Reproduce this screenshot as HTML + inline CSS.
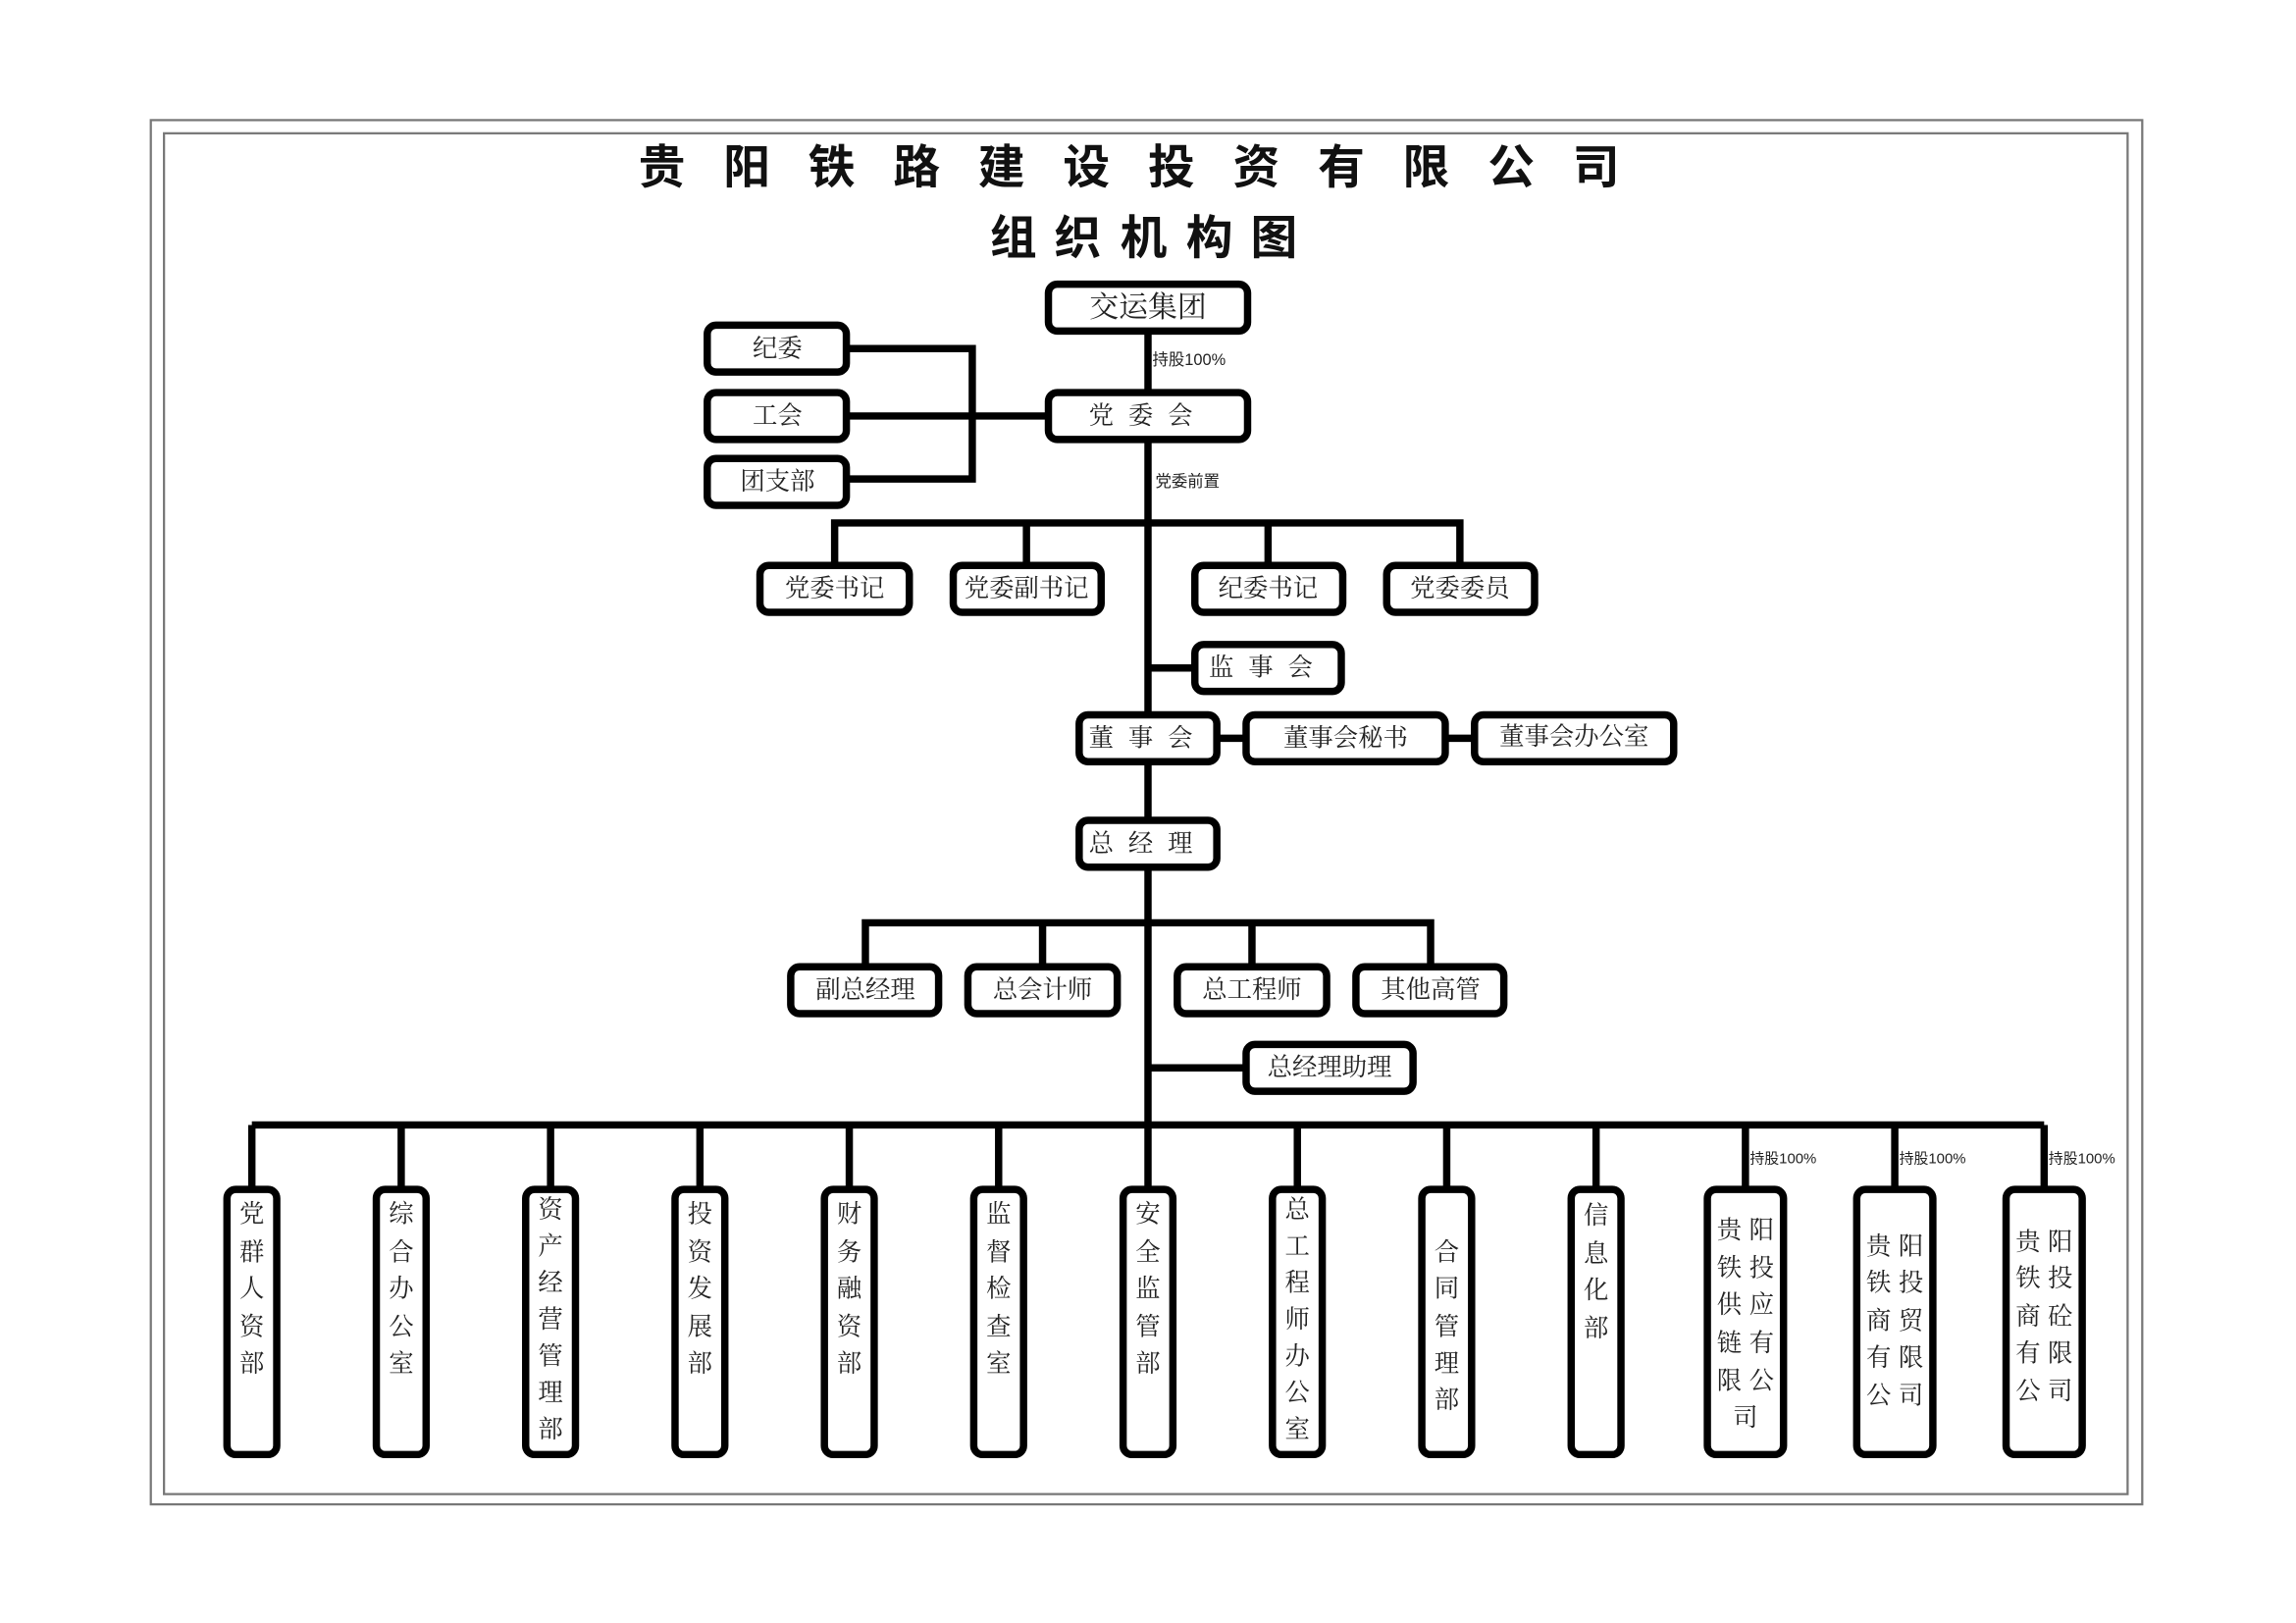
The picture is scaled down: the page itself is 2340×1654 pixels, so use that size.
<!DOCTYPE html>
<html><head><meta charset="utf-8"><style>
html,body{margin:0;padding:0;background:#fff;}
svg{display:block;}
.t{font-family:"Liberation Serif","Noto Serif CJK SC",serif;font-size:17px;fill:#222;text-anchor:middle;dominant-baseline:central;}
.h{font-family:"Liberation Sans","Noto Sans CJK SC",sans-serif;font-weight:bold;font-size:32px;fill:#111;text-anchor:middle;dominant-baseline:central;}
.s{font-family:"Liberation Sans","Noto Sans CJK SC",sans-serif;font-size:11px;fill:#222;dominant-baseline:central;}
.b{fill:#fff;stroke:#000;stroke-width:5;}
.l{stroke:#000;stroke-width:5;fill:none;}
</style></head><body>
<svg width="2340" height="1654" viewBox="0 0 1568 1108" preserveAspectRatio="none" xmlns="http://www.w3.org/2000/svg">
<rect x="0" y="0" width="1568" height="1108" fill="#fff"/>
<rect x="103" y="82" width="1360" height="945" fill="none" stroke="#777" stroke-width="1.5"/>
<rect x="112" y="91" width="1341" height="929" fill="none" stroke="#777" stroke-width="1.5"/>
<g class="h">
<text x="452" y="115">贵</text><text x="510" y="115">阳</text><text x="568" y="115">铁</text><text x="626" y="115">路</text><text x="684" y="115">建</text><text x="742" y="115">设</text><text x="800" y="115">投</text><text x="858" y="115">资</text><text x="916" y="115">有</text><text x="974" y="115">限</text><text x="1032" y="115">公</text><text x="1090" y="115">司</text>
<text x="692" y="163">组</text><text x="736" y="163">织</text><text x="781" y="163">机</text><text x="826" y="163">构</text><text x="870" y="163">图</text>
</g>
<!-- lines -->
<g class="l">
<line x1="784" y1="226" x2="784" y2="768"/>
<polyline points="578,238 664,238 664,327 578,327"/>
<line x1="578" y1="284" x2="716" y2="284"/>
<polyline points="570,386 570,357 997,357 997,386"/>
<line x1="701" y1="357" x2="701" y2="386"/><line x1="866" y1="357" x2="866" y2="386"/>
<line x1="784" y1="456" x2="816" y2="456"/>
<line x1="831" y1="504" x2="851" y2="504"/><line x1="987" y1="504" x2="1007" y2="504"/>
<polyline points="591,660 591,630 977,630 977,660"/>
<line x1="712" y1="630" x2="712" y2="660"/><line x1="855" y1="630" x2="855" y2="660"/>
<line x1="784" y1="729" x2="851" y2="729"/>
<line x1="172" y1="768" x2="1396" y2="768"/>
<line x1="172" y1="768" x2="172" y2="812"/><line x1="274" y1="768" x2="274" y2="812"/><line x1="376" y1="768" x2="376" y2="812"/><line x1="478" y1="768" x2="478" y2="812"/><line x1="580" y1="768" x2="580" y2="812"/><line x1="682" y1="768" x2="682" y2="812"/><line x1="784" y1="768" x2="784" y2="812"/><line x1="886" y1="768" x2="886" y2="812"/><line x1="988" y1="768" x2="988" y2="812"/><line x1="1090" y1="768" x2="1090" y2="812"/><line x1="1192" y1="768" x2="1192" y2="812"/><line x1="1294" y1="768" x2="1294" y2="812"/><line x1="1396" y1="768" x2="1396" y2="812"/>
</g>
<!-- boxes -->
<g class="b">
<rect x="716" y="194" width="136" height="32" rx="6"/>
<rect x="483" y="222" width="95" height="32" rx="6"/>
<rect x="483" y="268" width="95" height="32" rx="6"/>
<rect x="483" y="313" width="95" height="32" rx="6"/>
<rect x="716" y="268" width="136" height="32" rx="6"/>
<rect x="519" y="386" width="102" height="32" rx="6"/>
<rect x="651" y="386" width="101" height="32" rx="6"/>
<rect x="816" y="386" width="101" height="32" rx="6"/>
<rect x="947" y="386" width="101" height="32" rx="6"/>
<rect x="816" y="440" width="100" height="32" rx="6"/>
<rect x="737" y="488" width="94" height="32" rx="6"/>
<rect x="851" y="488" width="136" height="32" rx="6"/>
<rect x="1007" y="488" width="136" height="32" rx="6"/>
<rect x="737" y="560" width="94" height="32" rx="6"/>
<rect x="540" y="660" width="101" height="32" rx="6"/>
<rect x="661" y="660" width="102" height="32" rx="6"/>
<rect x="804" y="660" width="102" height="32" rx="6"/>
<rect x="926" y="660" width="101" height="32" rx="6"/>
<rect x="851" y="713" width="114" height="32" rx="6"/>
<rect x="155" y="812" width="34" height="181" rx="6"/>
<rect x="257" y="812" width="34" height="181" rx="6"/>
<rect x="359" y="812" width="34" height="181" rx="6"/>
<rect x="461" y="812" width="34" height="181" rx="6"/>
<rect x="563" y="812" width="34" height="181" rx="6"/>
<rect x="665" y="812" width="34" height="181" rx="6"/>
<rect x="767" y="812" width="34" height="181" rx="6"/>
<rect x="869" y="812" width="34" height="181" rx="6"/>
<rect x="971" y="812" width="34" height="181" rx="6"/>
<rect x="1073" y="812" width="34" height="181" rx="6"/>
<rect x="1166" y="812" width="52" height="181" rx="6"/>
<rect x="1268" y="812" width="52" height="181" rx="6"/>
<rect x="1370" y="812" width="52" height="181" rx="6"/>
</g>
<g class="t">
<text x="784" y="210" style="font-size:20px">交运集团</text>
<text x="531" y="238">纪委</text>
<text x="531" y="284">工会</text>
<text x="531" y="329">团支部</text>
<text x="784" y="284" letter-spacing="10">党委会</text>
<text x="570" y="402">党委书记</text>
<text x="701" y="402">党委副书记</text>
<text x="866" y="402">纪委书记</text>
<text x="997" y="402">党委委员</text>
<text x="866" y="456" letter-spacing="10">监事会</text>
<text x="784" y="504" letter-spacing="10">董事会</text>
<text x="919" y="504">董事会秘书</text>
<text x="1075" y="503">董事会办公室</text>
<text x="784" y="576" letter-spacing="10">总经理</text>
<text x="591" y="676">副总经理</text>
<text x="712" y="676">总会计师</text>
<text x="855" y="676">总工程师</text>
<text x="977" y="676">其他高管</text>
<text x="908" y="729">总经理助理</text>
</g>
<g class="s">
<text x="787" y="246">持股100%</text>
<text x="789" y="329">党委前置</text>
<text x="1195" y="791" style="font-size:10px">持股100%</text>
<text x="1297" y="791" style="font-size:10px">持股100%</text>
<text x="1399" y="791" style="font-size:10px">持股100%</text>
</g>
<g class="t">
<text x="172" y="829">党</text><text x="172" y="855">群</text><text x="172" y="880">人</text><text x="172" y="906">资</text><text x="172" y="931">部</text>
<text x="274" y="829">综</text><text x="274" y="855">合</text><text x="274" y="880">办</text><text x="274" y="906">公</text><text x="274" y="931">室</text>
<text x="376" y="826">资</text><text x="376" y="851">产</text><text x="376" y="876">经</text><text x="376" y="901">营</text><text x="376" y="926">管</text><text x="376" y="951">理</text><text x="376" y="976">部</text>
<text x="478" y="829">投</text><text x="478" y="855">资</text><text x="478" y="880">发</text><text x="478" y="906">展</text><text x="478" y="931">部</text>
<text x="580" y="829">财</text><text x="580" y="855">务</text><text x="580" y="880">融</text><text x="580" y="906">资</text><text x="580" y="931">部</text>
<text x="682" y="829">监</text><text x="682" y="855">督</text><text x="682" y="880">检</text><text x="682" y="906">查</text><text x="682" y="931">室</text>
<text x="784" y="829">安</text><text x="784" y="855">全</text><text x="784" y="880">监</text><text x="784" y="906">管</text><text x="784" y="931">部</text>
<text x="886" y="826">总</text><text x="886" y="851">工</text><text x="886" y="876">程</text><text x="886" y="901">师</text><text x="886" y="926">办</text><text x="886" y="951">公</text><text x="886" y="976">室</text>
<text x="988" y="855">合</text><text x="988" y="880">同</text><text x="988" y="906">管</text><text x="988" y="931">理</text><text x="988" y="956">部</text>
<text x="1090" y="830">信</text><text x="1090" y="856">息</text><text x="1090" y="881">化</text><text x="1090" y="907">部</text>
<text x="1181" y="840">贵</text><text x="1203" y="840">阳</text>
<text x="1181" y="866">铁</text><text x="1203" y="866">投</text>
<text x="1181" y="891">供</text><text x="1203" y="891">应</text>
<text x="1181" y="917">链</text><text x="1203" y="917">有</text>
<text x="1181" y="943">限</text><text x="1203" y="943">公</text>
<text x="1192" y="968">司</text>
<text x="1283" y="851">贵</text><text x="1305" y="851">阳</text>
<text x="1283" y="876">铁</text><text x="1305" y="876">投</text>
<text x="1283" y="902">商</text><text x="1305" y="902">贸</text>
<text x="1283" y="927">有</text><text x="1305" y="927">限</text>
<text x="1283" y="953">公</text><text x="1305" y="953">司</text>
<text x="1385" y="848">贵</text><text x="1407" y="848">阳</text>
<text x="1385" y="873">铁</text><text x="1407" y="873">投</text>
<text x="1385" y="899">商</text><text x="1407" y="899">砼</text>
<text x="1385" y="924">有</text><text x="1407" y="924">限</text>
<text x="1385" y="950">公</text><text x="1407" y="950">司</text>
</g>
</svg>
</body></html>
